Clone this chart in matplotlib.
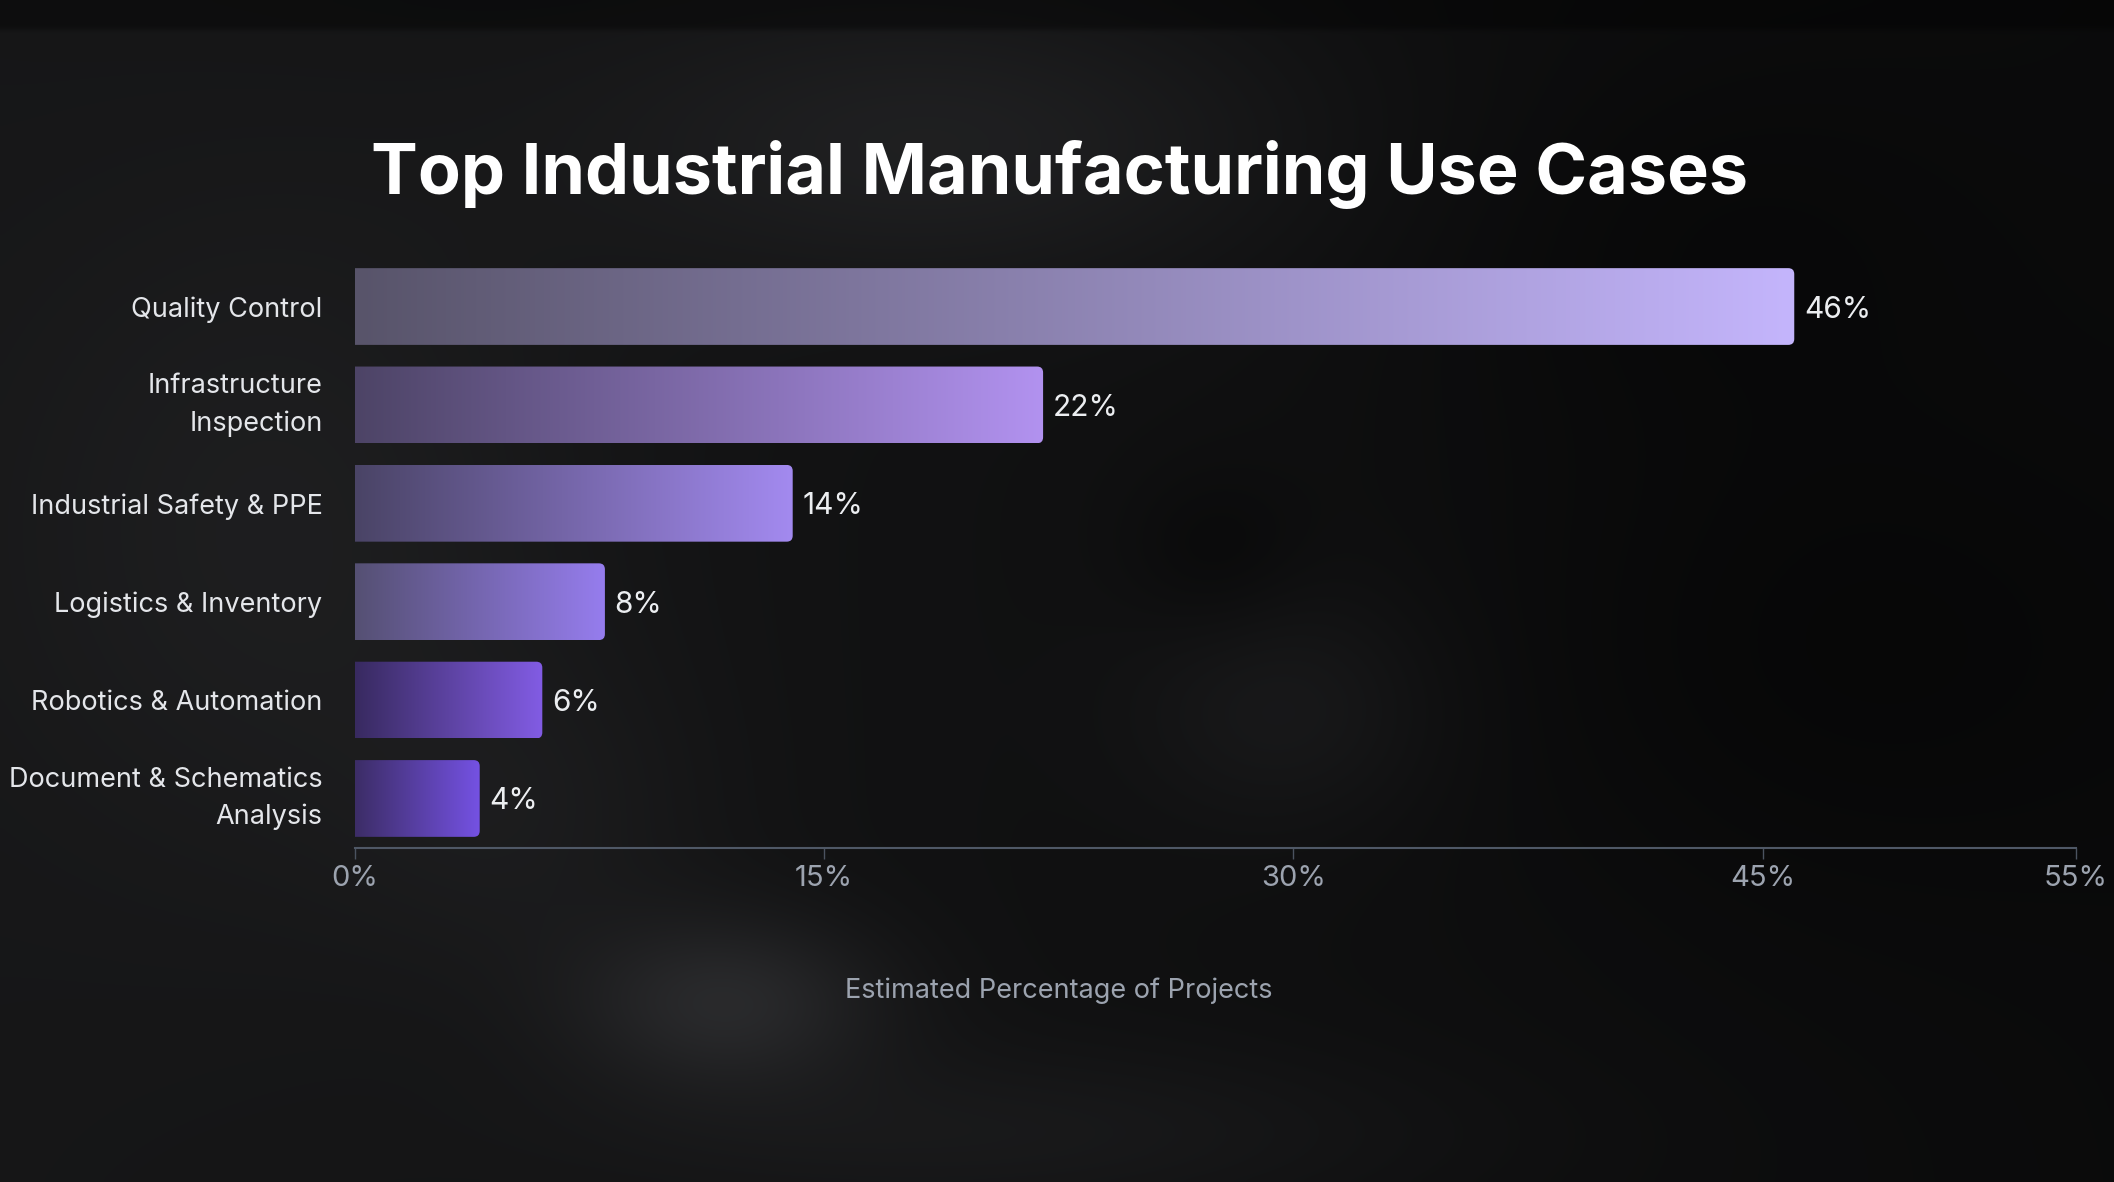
import matplotlib
matplotlib.use("Agg")
import matplotlib.pyplot as plt
import numpy as np
from matplotlib.patches import FancyBboxPatch, BoxStyle

# Data
categories = ['Quality Control', 'Infrastructure\nInspection', 'Industrial Safety & PPE',
              'Logistics & Inventory', 'Robotics & Automation', 'Document & Schematics\nAnalysis']
values = [46, 22, 14, 8, 6, 4]
tick_values = [0, 15, 30, 45, 55]
tick_labels = ['0%', '15%', '30%', '45%', '55%']

# Gradient colours per bar (left end -> right end)
left_colors = ['#58546a', '#4d4466', '#4a4466', '#555073', '#382a60', '#3c2d66']
right_colors = ['#c4b5fc', '#b292f0', '#a38af0', '#967dee', '#825ce4', '#7552e4']

plt.rcParams['font.family'] = ['Inter', 'DejaVu Sans']

W, H, DPI = 2114, 1182, 100
fig = plt.figure(figsize=(W / DPI, H / DPI), dpi=DPI)

# Background: dark base with soft blurred blobs
bg_ax = fig.add_axes([0, 0, 1, 1], zorder=-10)
bg_ax.set_axis_off()
gy, gx = np.mgrid[0:1:240j, 0:1:420j]
base = 22 - 11 * gx
blobs = [  # cx, cy, sx, sy, amount (decoration only)
    (0.45, 0.12, 0.12, 0.09, 14),
    (0.14, 0.45, 0.10, 0.22, 9),
    (0.345, 0.85, 0.05, 0.05, 22),
    (0.61, 0.60, 0.05, 0.07, 9),
    (0.575, 0.47, 0.03, 0.05, -5),
    (0.86, 0.55, 0.12, 0.16, -5),
    (0.48, 0.96, 0.14, 0.05, 8),
    (0.25, 0.70, 0.06, 0.10, 6),
    (0.80, 0.20, 0.10, 0.12, -4),
]
for cx, cy, sx, sy, amt in blobs:
    base = base + amt * np.exp(-((gx - cx) ** 2 / (2 * sx ** 2) + (gy - cy) ** 2 / (2 * sy ** 2)))
base = np.where(gy < 0.025, base * 0.6, base)
base = np.clip(base, 5, 60) / 255.0
bg = np.dstack([base, base * 1.01, base * 1.06])
bg_ax.imshow(np.clip(bg, 0, 1), extent=[0, 1, 0, 1], aspect='auto',
             interpolation='bicubic', origin='upper')
bg_ax.set_xlim(0, 1)
bg_ax.set_ylim(0, 1)

# Main axes
ax = fig.add_axes([0.1677, 0.2826, 0.8143, 0.4997])
ax.patch.set_alpha(0)
y = np.arange(len(categories))
bar_h = 0.78
bars = ax.barh(y, values, height=bar_h, color='none', edgecolor='none')

ax.set_xlim(0, 55)
ax.set_ylim(5.503, -0.5)

# px per data unit, for round corners
fig.canvas.draw()
bb = ax.get_window_extent()
px_x = bb.width / 55.0
px_y = bb.height / 6.003
r_px = 6
rx = r_px / px_x

for bar, val, c0, c1 in zip(bars, values, left_colors, right_colors):
    x0, y0 = bar.get_x(), bar.get_y()
    w, h = bar.get_width(), bar.get_height()
    a = np.array(matplotlib.colors.to_rgb(c0))
    b = np.array(matplotlib.colors.to_rgb(c1))
    t = np.linspace(0, 1, 256)[:, None]
    grad = (a + (b - a) * t)[None, :, :]
    img = ax.imshow(grad, extent=[x0, x0 + w, y0 + h, y0], aspect='auto',
                    interpolation='bicubic', zorder=2)
    clip = FancyBboxPatch((x0 - 1, y0), w + 1, h,
                          boxstyle=BoxStyle('Round', pad=0, rounding_size=rx),
                          mutation_aspect=px_x / px_y, transform=ax.transData)
    img.set_clip_path(clip)
    ax.annotate(f'{val}%', (x0 + w, y0 + h / 2),
                xytext=(7, 0), textcoords='offset points', va='center_baseline',
                ha='left', color='#eceef1', fontsize=21.5)

ax.set_xlim(0, 55)
ax.set_ylim(5.503, -0.5)

ax.set_yticks(y)
ax.set_yticklabels(categories, fontsize=19.5, color='#e4e6ea', linespacing=1.55)
for lab in ax.get_yticklabels():
    if '\n' in lab.get_text():
        lab.set_va('center')
ax.tick_params(axis='y', length=0, pad=23)
ax.set_xticks(tick_values)
ax.set_xticklabels(tick_labels, fontsize=21, color='#9ca3af')
ax.tick_params(axis='x', length=8, width=1, color='#4b5360', pad=4)

for s in ['top', 'right', 'left']:
    ax.spines[s].set_visible(False)
ax.spines['bottom'].set_color('#4f5866')
ax.spines['bottom'].set_linewidth(1.5)

fig.text(0.501, 0.852, 'Top Industrial Manufacturing Use Cases', ha='center', va='center',
         fontsize=50.5, fontweight='bold', color='white')
fig.text(0.501, 0.162, 'Estimated Percentage of Projects', ha='center', va='center',
         fontsize=19.5, color='#9ca3af')

fig.savefig('out.png', dpi=DPI, facecolor='#141516')
